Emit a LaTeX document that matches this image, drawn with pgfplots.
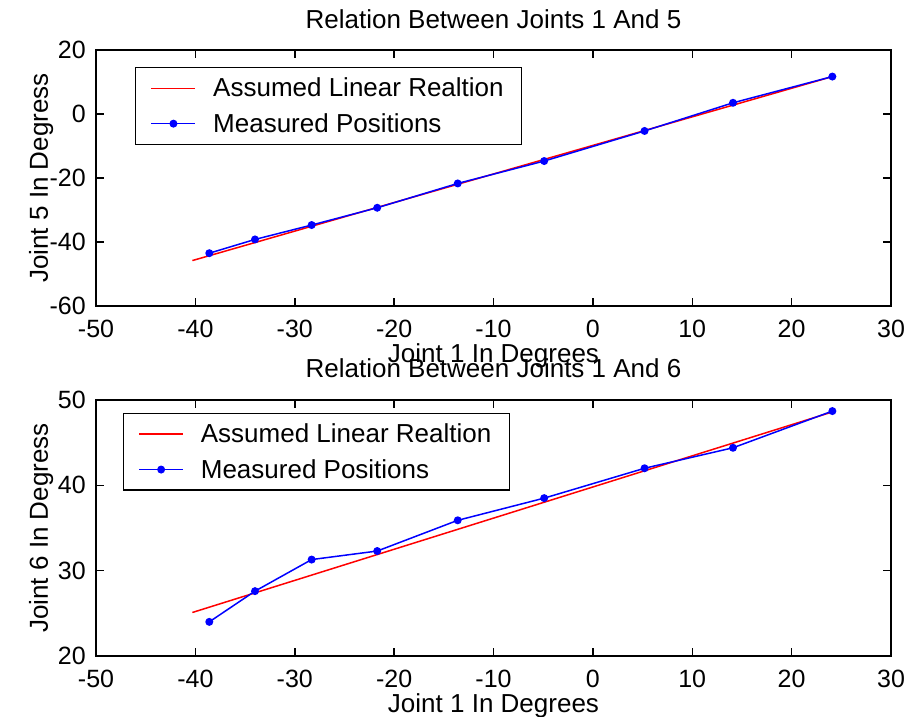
\documentclass[border=0pt]{standalone}
\usepackage{fontspec}
\setmainfont{Liberation Sans}
\usepackage{pgfplots}
\pgfplotsset{compat=1.18}
\newcommand{\fs}{\fontsize{26}{31}\selectfont}
\newcommand{\ft}{\fontsize{25}{30}\selectfont}
\pgfplotsset{
  myax/.style={
    scale only axis,
    width=795pt, height=256pt,
    xmin=-50, xmax=30,
    xtick={-50,-40,-30,-20,-10,0,10,20,30},
    tick align=inside,
    xtick pos=both, ytick pos=both,
    major tick length=8pt,
    axis line style={line width=1.5pt},
    every tick/.style={black, line width=1.5pt},
    /pgf/number format/assume math mode=true,
    tick label style={font=\ft},
    xticklabel style={anchor=base, inner sep=0pt, yshift=-32pt},
    yticklabel style={anchor=east, inner sep=0pt, xshift=-10pt},
    label style={font=\fs},
    xlabel style={at={(axis description cs:0.5,0)}, anchor=base, yshift=-57pt},
    ylabel style={at={(axis description cs:0,0.5)}, anchor=base, yshift=48pt},
    title style={font=\fs, at={(axis description cs:0.5,1)}, anchor=base, yshift=15pt},
    legend style={font=\fs, draw=black, line width=1.5pt, inner xsep=15pt, inner ysep=7.5pt,
      anchor=north west, legend cell align=left, row sep=9pt, column sep=14pt,
      nodes={inner sep=3pt}},
    legend image code/.code={\draw[mark repeat=2, mark phase=2, #1] plot coordinates {(0pt,0pt) (22pt,0pt) (44pt,0pt)};},
    xlabel={Joint 1 In Degrees},
  },
}
\begin{document}
\begin{tikzpicture}
\begin{axis}[myax, at={(96pt,411pt)}, anchor=south west,
  ymin=-60, ymax=20, ytick={-60,-40,-20,0,20},
  ylabel={Joint 5 In Degress},
  title={Relation Between Joints 1 And 5},
  legend style={at={(rel axis cs:0.049,0.934)}},
]
\addplot[color=red, line width=1.5pt, mark=none] coordinates {(-40.3,-45.8) (24.1,11.7)};
\addlegendentry{Assumed Linear Realtion}
\addplot[color=blue, line width=1.5pt, mark=*, mark size=3.2pt, mark options={solid, fill=blue, draw=blue}] coordinates {
(-38.6,-43.5) (-34.0,-39.2) (-28.3,-34.7) (-21.7,-29.3) (-13.6,-21.7)
(-4.9,-14.7) (5.2,-5.3) (14.1,3.5) (24.1,11.7)};
\addlegendentry{Measured Positions}
\end{axis}
\begin{axis}[myax, at={(96pt,61pt)}, anchor=south west,
  ymin=20, ymax=50, ytick={20,30,40,50},
  ylabel={Joint 6 In Degress},
  title={Relation Between Joints 1 And 6},
  title style={yshift=1pt},
  legend style={at={(rel axis cs:0.0335,0.95)}},
]
\addplot[color=red, line width=1.5pt, mark=none] coordinates {(-40.3,25.1) (24.1,48.6)};
\addlegendentry{Assumed Linear Realtion}
\addplot[color=blue, line width=1.5pt, mark=*, mark size=3.2pt, mark options={solid, fill=blue, draw=blue}] coordinates {
(-38.6,24.0) (-34.0,27.6) (-28.3,31.3) (-21.7,32.3) (-13.6,35.9)
(-4.9,38.5) (5.2,42.0) (14.1,44.4) (24.1,48.7)};
\addlegendentry{Measured Positions}
\end{axis}
\pgfresetboundingbox
\useasboundingbox (0,0) rectangle (905pt,717pt);
\end{tikzpicture}
\end{document}
